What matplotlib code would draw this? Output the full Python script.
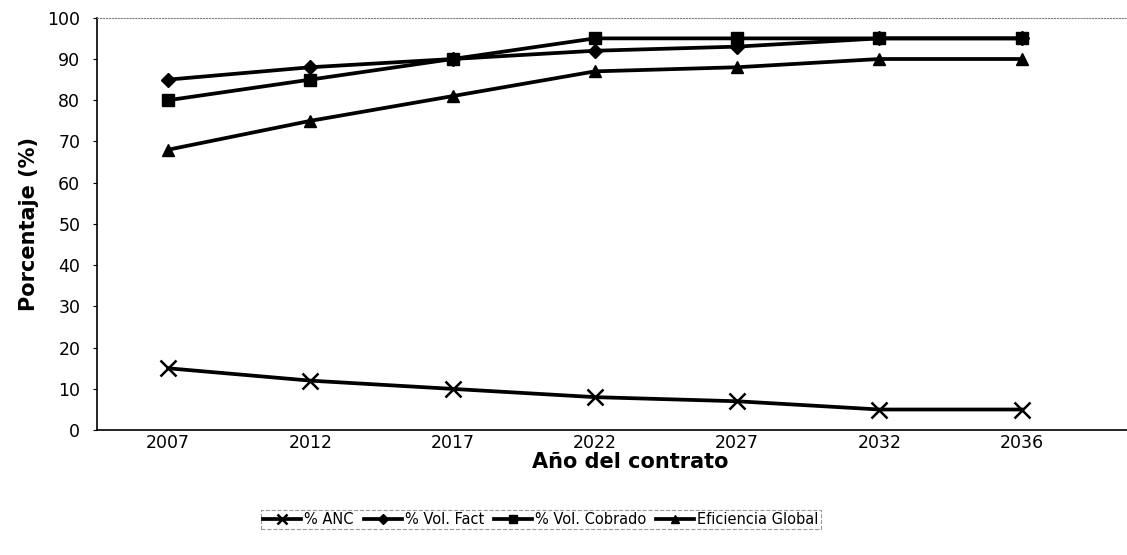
import matplotlib.pyplot as plt

plt.rcParams['font.family'] = ['DejaVu Sans']

years = ['2007', '2012', '2017', '2022', '2027', '2032', '2036']
anc = [15, 12, 10, 8, 7, 5, 5]
vol_fact = [85, 88, 90, 92, 93, 95, 95]
vol_cobrado = [80, 85, 90, 95, 95, 95, 95]
eficiencia = [68, 75, 81, 87, 88, 90, 90]

fig = plt.figure(figsize=(11.27, 5.55), dpi=100)
ax = fig.add_axes([0.086, 0.225, 0.914, 0.743])

x = range(len(years))
ax.plot(x, anc, color='black', lw=2.7, marker='x', ms=11, mew=1.8, label='% ANC')
ax.plot(x, vol_fact, color='black', lw=2.7, marker='D', ms=7, label='% Vol. Fact')
ax.plot(x, vol_cobrado, color='black', lw=2.7, marker='s', ms=9, label='% Vol. Cobrado')
ax.plot(x, eficiencia, color='black', lw=2.7, marker='^', ms=9, label='Eficiencia Global')

ax.set_xlim(-0.5, 6.74)
ax.set_ylim(0, 100)
ax.set_yticks(range(0, 101, 10))
ax.set_xticks(list(x))
ax.set_xticklabels(years)
ax.tick_params(axis='both', labelsize=12.5, length=3, color='black')
ax.tick_params(axis='y', pad=9)
ax.tick_params(axis='x', length=0, pad=3)

ax.spines['right'].set_visible(False)
ax.spines['top'].set_linestyle(':')
ax.spines['top'].set_color('gray')
ax.spines['left'].set_linewidth(1.2)
ax.spines['bottom'].set_linewidth(1.2)

ax.set_ylabel('Porcentaje (%)', fontsize=15, fontweight='bold', labelpad=6)
ax.set_xlabel('Año del contrato', fontsize=15, fontweight='bold')
ax.xaxis.set_label_coords(0.518, -0.052)

leg = ax.legend(loc='center', bbox_to_anchor=(0.431, -0.216), ncol=4, fontsize=10.5,
                frameon=True, fancybox=False, handlelength=2.6, handletextpad=0.2,
                columnspacing=0.7, borderpad=0.15, markerscale=0.7)
leg.get_frame().set_edgecolor('gray')
leg.get_frame().set_linestyle('--')
leg.get_frame().set_linewidth(0.8)

fig.savefig('out.png', dpi=100)
